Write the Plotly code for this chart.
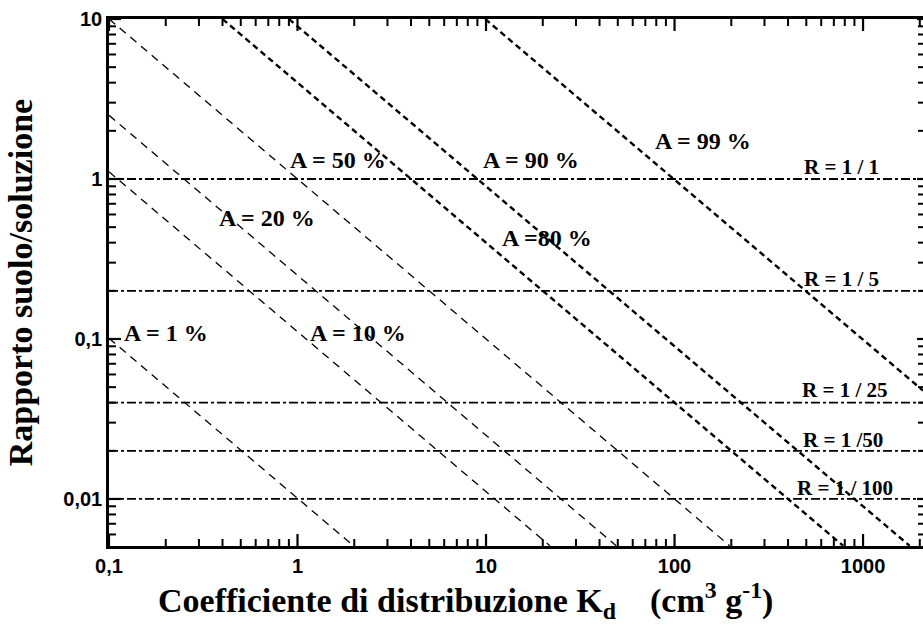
import math
import plotly.graph_objects as go

# ---- data ----
a_labels = ["A = 1 %", "A = 10 %", "A = 20 %", "A = 50 %", "A =80 %", "A = 90 %", "A = 99 %"]
a_kd_start = [0.1, 0.1, 0.1, 0.1, 0.4, 0.9, 9.9]
a_r_start = [0.101, 1.11, 2.5, 10.0, 10.0, 10.0, 10.0]
a_kd_end = [1.98, 21.8, 49.0, 196.0, 784.0, 1765.0, 2080.0]
a_r_end = [0.0051, 0.0051, 0.0051, 0.0051, 0.0051, 0.0051, 0.0476]
a_label_kd = [0.2, 2.09, 0.69, 1.64, 21.0, 17.3, 141.0]
a_label_r = [0.109, 0.109, 0.57, 1.32, 0.43, 1.32, 1.73]

r_labels = ["R = 1 / 1", "R = 1 / 5", "R = 1 / 25", "R = 1 /50", "R = 1 / 100"]
r_values = [1.0, 0.2, 0.04, 0.02, 0.01]
r_label_kd = [771, 771, 800, 780, 800]
r_label_r = [1.19, 0.237, 0.048, 0.0234, 0.0117]

kd_range = [0.1, 2080]
x_tickvals = [0.1, 1, 10, 100, 1000]
x_ticktext = ["0,1", "1", "10", "100", "1000"]
y_tickvals = [0.01, 0.1, 1, 10]
y_ticktext = ["0,01", "0,1", "1", "10"]

fig = go.Figure()

thick = {"A =80 %", "A = 90 %", "A = 99 %"}
for i, lab in enumerate(a_labels):
    if lab in thick:
        line = dict(color="black", width=2.4, dash="6px,4px")
    else:
        line = dict(color="black", width=1.3, dash="8px,6px")
    fig.add_trace(go.Scatter(x=[a_kd_start[i], a_kd_end[i]], y=[a_r_start[i], a_r_end[i]],
                             mode="lines", line=line, showlegend=False, hoverinfo="skip"))

for rv in r_values:
    fig.add_trace(go.Scatter(x=kd_range, y=[rv, rv], mode="lines",
                             line=dict(color="black", width=1.8, dash="9px,3px,3px,3px"),
                             showlegend=False, hoverinfo="skip"))

for i, lab in enumerate(a_labels):
    fig.add_annotation(x=math.log10(a_label_kd[i]), y=math.log10(a_label_r[i]), xref="x", yref="y",
                       text="<b>%s</b>" % lab, showarrow=False, xanchor="center", yanchor="middle",
                       font=dict(family="Liberation Serif", size=24, color="black"))
for i, lab in enumerate(r_labels):
    fig.add_annotation(x=math.log10(r_label_kd[i]), y=math.log10(r_label_r[i]), xref="x", yref="y",
                       text="<b>%s</b>" % lab, showarrow=False, xanchor="center", yanchor="middle",
                       font=dict(family="Liberation Serif", size=21, color="black"))

minor_x = [m * 10 ** e for e in range(-1, 4) for m in range(2, 10) if m * 10 ** e <= 2000]
minor_y = [m * 10 ** e for e in range(-3, 1) for m in range(2, 10) if 0.005 <= m * 10 ** e <= 10]

tickfont = dict(family="Liberation Sans", size=20, color="black", weight="bold")
x_range = [-1, 3.318]
y_range = [-2.294, 1.0]

W, H = 923, 630
ML, MR, MT, MB = 109, 0, 19, 84
PW, PH = W - ML - MR, H - MT - MB  # plot area in pixels
x_px_per_dec = PW / (x_range[1] - x_range[0])
y_px_per_dec = PH / (y_range[1] - y_range[0])

fig.update_layout(
    xaxis=dict(type="log", range=x_range, tickmode="array", tickvals=x_tickvals, ticktext=x_ticktext,
               showgrid=False, zeroline=False, showline=True, linecolor="black", linewidth=2.5,
               mirror=True, ticks="", tickfont=tickfont, automargin=False),
    yaxis=dict(type="log", range=y_range, tickmode="array", tickvals=y_tickvals, ticktext=y_ticktext,
               showgrid=False, zeroline=False, showline=True, linecolor="black", linewidth=2.5,
               mirror=True, ticks="", tickfont=tickfont, automargin=False),
)

# inward tick marks, drawn as line segments on the data axes (length given in pixels)
def xtick_trace(vals, bottom_len, top_len, width):
    y_lo, y_hi = 10 ** y_range[0], 10 ** y_range[1]
    y_lo_end = 10 ** (y_range[0] + bottom_len / y_px_per_dec)
    y_hi_end = 10 ** (y_range[1] - top_len / y_px_per_dec)
    xs, ys = [], []
    for v in vals:
        xs += [v, v, None, v, v, None]
        ys += [y_lo, y_lo_end, None, y_hi, y_hi_end, None]
    fig.add_trace(go.Scatter(x=xs, y=ys, mode="lines", line=dict(color="black", width=width),
                             showlegend=False, hoverinfo="skip", connectgaps=False))

def ytick_trace(vals, left_len, right_len, width):
    x_lo, x_hi = 10 ** x_range[0], 10 ** x_range[1]
    x_lo_end = 10 ** (x_range[0] + left_len / x_px_per_dec)
    x_hi_end = 10 ** (x_range[1] - right_len / x_px_per_dec)
    xs, ys = [], []
    for v in vals:
        xs += [x_lo, x_lo_end, None, x_hi, x_hi_end, None]
        ys += [v, v, None, v, v, None]
    fig.add_trace(go.Scatter(x=xs, y=ys, mode="lines", line=dict(color="black", width=width),
                             showlegend=False, hoverinfo="skip", connectgaps=False))

xtick_trace(x_tickvals, 12, 12, 2.2)
xtick_trace(minor_x, 7, 7, 2.0)
ytick_trace(y_tickvals, 12, 6, 2.2)
ytick_trace(minor_y, 7, 5, 2.0)

fig.add_annotation(x=0.438, y=-0.1025, xref="paper", yref="paper", showarrow=False,
                   xanchor="center", yanchor="middle",
                   text="<b>Coefficiente di distribuzione K<sub>d</sub>    (cm<sup>3</sup> g<sup>-1</sup>)</b>",
                   font=dict(family="Liberation Serif", size=34, color="black"))
fig.add_annotation(x=-0.109, y=0.499, xref="paper", yref="paper", showarrow=False, textangle=-90,
                   xanchor="center", yanchor="middle",
                   text="<b>Rapporto suolo/soluzione</b>",
                   font=dict(family="Liberation Serif", size=34, color="black"))

fig.update_layout(width=W, height=H, margin=dict(l=ML, r=MR, t=MT, b=MB),
                  plot_bgcolor="white", paper_bgcolor="white")

fig.write_html("out.html")
